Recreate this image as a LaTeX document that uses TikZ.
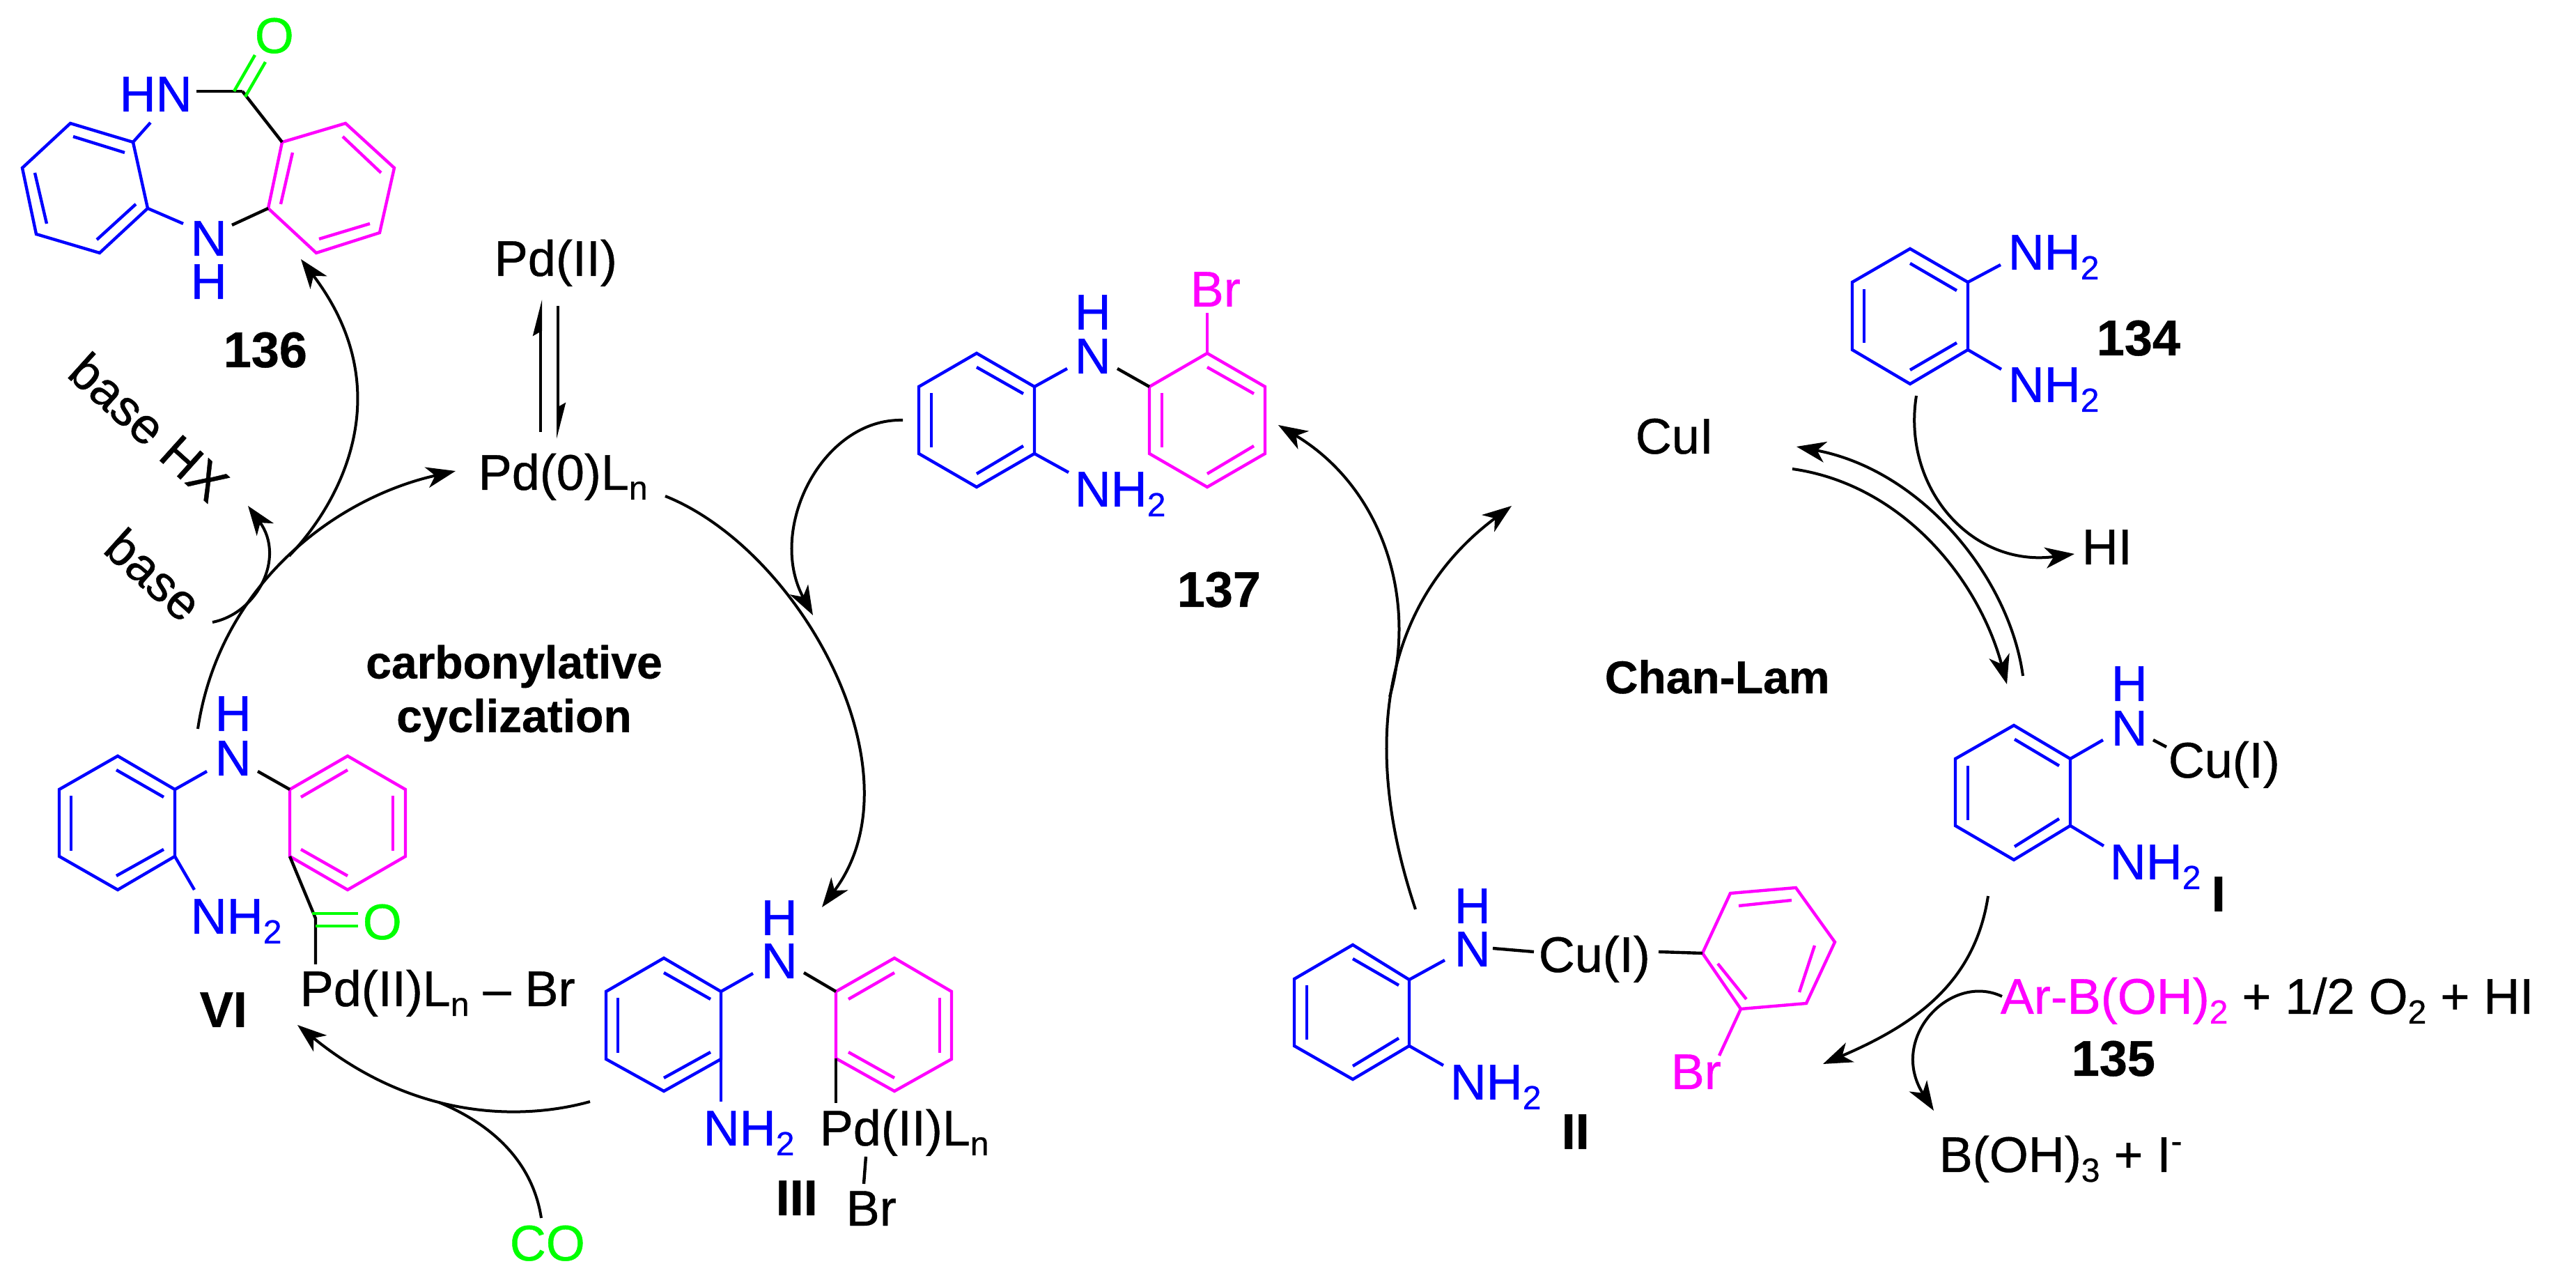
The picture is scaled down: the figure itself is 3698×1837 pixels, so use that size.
\documentclass[tikz,border=0pt]{standalone}
\usepackage{fontspec}
\setmainfont{Liberation Sans}[RawFeature={embolden=0.6}]
\usetikzlibrary{arrows.meta}
\definecolor{cb}{RGB}{0,0,255}
\definecolor{cm}{RGB}{255,0,255}
\definecolor{cg}{RGB}{0,255,0}
\newcommand\lsub[1]{\raisebox{-3.5pt}{\fontsize{12}{12}\selectfont #1}}
\newcommand\lsup[1]{\raisebox{7pt}{\fontsize{12}{12}\selectfont #1}}
\newcommand\hexring[8]{%
  \coordinate (#1a) at (#3);\coordinate (#1b) at (#4);\coordinate (#1c) at (#5);
  \coordinate (#1d) at (#6);\coordinate (#1e) at (#7);\coordinate (#1f) at (#8);
  \draw[#2] (#1a)--(#1b)--(#1c)--(#1d)--(#1e)--(#1f)--cycle;}
\newcommand\dbl[3]{\draw[#1] (#2)--(#3);}
\newcommand\tx[4]{\node[txt,text=#3] (#1) at (#2) {#4};}
\newcommand\bx[3]{\node[boldtxt] (#1) at (#2) {#3};}
\newcommand\bnd[4]{\coordinate (#2) at (#3);\draw[#1] (#4)--(#2);}
\tikzset{
  blb/.style={draw=cb,line width=1.1pt,line join=miter},
  mgb/.style={draw=cm,line width=1.1pt,line join=miter},
  grb/.style={draw=cg,line width=1.1pt},
  bkb/.style={draw=black,line width=1.1pt},
  txt/.style={anchor=base west,inner sep=0pt,xshift=-1pt,font=\fontsize{18}{21}\selectfont},
  boldtxt/.style={anchor=base west,inner sep=0pt,xshift=-1pt,font=\fontsize{18}{21}\selectfont\bfseries},
  arr/.style={draw=black,line width=1pt,-{Stealth[length=10.5pt,width=7.5pt,inset=3pt]}},
  arc/.style={draw=black,line width=1pt},
  harp/.style={draw=black,line width=1pt,-{Stealth[harpoon,length=11pt,width=5.5pt,inset=1.5pt]}},
}
\begin{document}
\begin{tikzpicture}[x=0.25pt,y=-0.25pt]
\useasboundingbox (0,0) rectangle (3698,1837);
\fill[white] (0,0) rectangle (3698,1837);
% ---------- 136
\hexring{Pa}{blb}{101,177}{191,204}{212,299}{143,363}{52,336}{32,241}
\dbl{blb}{105,196}{179,219}\dbl{blb}{50,248}{67,321}\dbl{blb}{139,344}{195,293}
\hexring{Pb}{mgb}{405,204}{496,177}{566,241}{545,334}{454,363}{385,299}
\dbl{mgb}{492,196}{547,248}\dbl{mgb}{458,343}{531,321}\dbl{mgb}{420,219}{403,293}
\tx{hn136}{175,160}{cb}{HN}
\tx{n136}{277,367}{cb}{N}
\tx{h136}{277,429}{cb}{H}
\tx{o136}{369,76}{cg}{O}
\bx{l136}{324,527}{136}
\coordinate (c136) at (348,131);
\bnd{blb}{e1}{216,176}{Pab}
\bnd{blb}{e2}{263,321}{Pac}
\bnd{bkb}{e3}{333,323}{Pbf}
\bnd{bkb}{e4}{282,131}{c136}
\draw[bkb] (c136)--(Pba);
\dbl{grb}{336,131}{366,79}\dbl{grb}{352,139}{381,89}
% ---------- Pd
\tx{pd2}{713,396}{black}{Pd(II)}
\tx{pd0}{690,703}{black}{Pd(0)L\lsub{n}}
\coordinate (qa) at (776,620);\coordinate (qb) at (776,430);
\coordinate (qc) at (801,439);\coordinate (qd) at (801,630);
\draw[harp] (qa)--(qb);
\draw[harp] (qc)--(qd);
\node[txt,anchor=center,rotate=-42,xshift=1pt] (bhx) at (215,610) {base HX};
\node[txt,anchor=center,rotate=-42,xshift=1pt] (bs) at (222,822) {base};
% ---------- VI
\hexring{Va}{blb}{169,1085}{251,1133}{251,1229}{169,1277}{85,1229}{85,1133}
\dbl{blb}{167,1105}{235,1144}\dbl{blb}{102,1142}{102,1221}\dbl{blb}{167,1257}{235,1219}
\hexring{Vb}{mgb}{416,1133}{499,1085}{582,1133}{582,1229}{499,1277}{416,1229}
\dbl{mgb}{432,1144}{499,1105}\dbl{mgb}{564,1142}{564,1221}\dbl{mgb}{432,1219}{499,1257}
\tx{n6}{312,1113}{cb}{N}
\tx{h6}{312,1049}{cb}{H}
\tx{nh6}{277,1340}{cb}{NH\lsub{2}}
\tx{o6}{524,1348}{cg}{O}
\tx{pd6}{434,1444}{black}{Pd(II)L\lsub{n} -- Br}
\bx{l6}{290,1474}{VI}
\bnd{blb}{e5}{297,1107}{Vab}
\bnd{bkb}{e6}{370,1107}{Vba}
\bnd{blb}{e7}{279,1277}{Vac}
\coordinate (c6) at (453,1318);\coordinate (c6b) at (453,1384);
\draw[bkb] (Vbf)--(c6)--(c6b);
\dbl{grb}{448,1311}{514,1311}\dbl{grb}{453,1329}{514,1329}
\node[boldtxt,anchor=center,align=center,xshift=1pt,font=\fontsize{16.5}{19.25}\selectfont\bfseries] (carb) at (738,995) {carbonylative\\cyclization};
% ---------- III
\hexring{Ta}{blb}{953,1375}{1035,1423}{1035,1520}{953,1566}{870,1520}{870,1423}
\dbl{blb}{953,1396}{1020,1434}\dbl{blb}{887,1432}{887,1511}\dbl{blb}{953,1547}{1020,1510}
\hexring{Tb}{mgb}{1200,1423}{1284,1375}{1366,1423}{1366,1520}{1284,1566}{1200,1519}
\dbl{mgb}{1218,1434}{1284,1396}\dbl{mgb}{1349,1432}{1349,1511}\dbl{mgb}{1218,1510}{1284,1547}
\tx{n3}{1096,1404}{cb}{N}
\tx{h3}{1096,1342}{cb}{H}
\tx{nh3}{1013,1644}{cb}{NH\lsub{2}}
\tx{pd3}{1180,1644}{black}{Pd(II)L\lsub{n}}
\tx{br3}{1218,1759}{black}{Br}
\bx{l3}{1117,1744}{III}
\bnd{blb}{e8}{1081,1397}{Tab}
\bnd{bkb}{e9}{1154,1396}{Tba}
\bnd{blb}{e10}{1035,1581}{Tac}
\bnd{bkb}{e11}{1200,1583}{Tbf}
\coordinate (e12) at (1243,1660);\coordinate (e13) at (1240,1699);
\draw[bkb] (e12)--(e13);
\tx{co}{735,1809}{cg}{CO}
% ---------- 137
\hexring{Sa}{blb}{1402,507}{1485,555}{1485,651}{1402,699}{1319,651}{1319,555}
\dbl{blb}{1402,527}{1469,565}\dbl{blb}{1337,564}{1337,642}\dbl{blb}{1402,680}{1469,640}
\hexring{Sb}{mgb}{1650,555}{1733,507}{1816,555}{1816,651}{1733,699}{1650,651}
\dbl{mgb}{1668,564}{1668,642}\dbl{mgb}{1733,527}{1800,565}\dbl{mgb}{1733,680}{1800,640}
\tx{n7}{1546,536}{cb}{N}
\tx{h7}{1546,473}{cb}{H}
\tx{nh7}{1546,727}{cb}{NH\lsub{2}}
\tx{br7}{1712,440}{cm}{Br}
\bx{l7}{1693,871}{137}
\bnd{blb}{e14}{1532,529}{Sab}
\bnd{bkb}{e15}{1604,529}{Sba}
\bnd{blb}{e16}{1534,678}{Sac}
\bnd{mgb}{e17}{1733,449}{Sbb}
% ---------- 134
\hexring{Fa}{blb}{2742,357}{2825,405}{2825,502}{2742,551}{2659,502}{2659,405}
\dbl{blb}{2742,378}{2809,417}\dbl{blb}{2676,415}{2676,492}\dbl{blb}{2742,531}{2809,492}
\tx{nh4a}{2886,387}{cb}{NH\lsub{2}}
\tx{nh4b}{2886,577}{cb}{NH\lsub{2}}
\bx{l4}{3013,510}{134}
\bnd{blb}{e18}{2872,380}{Fab}
\bnd{blb}{e19}{2873,530}{Fac}
\tx{hi}{2992,810}{black}{HI}
\tx{cui}{2351,651}{black}{CuI}
\node[boldtxt,font=\fontsize{16.5}{19}\selectfont\bfseries] (chan) at (2307,995) {Chan-Lam};
% ---------- I
\hexring{Ia}{blb}{2891,1041}{2972,1089}{2972,1185}{2891,1234}{2807,1185}{2807,1089}
\dbl{blb}{2892,1061}{2956,1099}\dbl{blb}{2825,1099}{2825,1177}\dbl{blb}{2892,1215}{2956,1175}
\tx{n1}{3034,1070}{cb}{N}
\tx{h1}{3034,1006}{cb}{H}
\tx{cu1}{3116,1116}{black}{Cu(I)}
\tx{nh1}{3032,1262}{cb}{NH\lsub{2}}
\bx{l1}{3178,1308}{I}
\bnd{blb}{e20}{3019,1062}{Iab}
\bnd{blb}{e21}{3020,1214}{Iac}
\coordinate (e22) at (3091,1062);\coordinate (e23) at (3110,1072);
\draw[bkb] (e22)--(e23);
% ---------- II
\hexring{Da}{blb}{1942,1356}{2023,1406}{2023,1501}{1942,1549}{1858,1501}{1858,1405}
\dbl{blb}{1942,1376}{2008,1414}\dbl{blb}{1876,1414}{1876,1492}\dbl{blb}{1942,1530}{2008,1490}
\hexring{Db}{mgb}{2444,1368}{2484,1282}{2578,1274}{2634,1352}{2593,1440}{2499,1448}
\dbl{mgb}{2496,1300}{2572,1292}\dbl{mgb}{2605,1357}{2583,1424}\dbl{mgb}{2466,1383}{2507,1434}
\tx{n2}{2091,1387}{cb}{N}
\tx{h2}{2091,1325}{cb}{H}
\tx{nh2}{2085,1578}{cb}{NH\lsub{2}}
\tx{cu2}{2212,1395}{black}{Cu(I)}
\tx{br2}{2402,1563}{cm}{Br}
\bx{l2}{2245,1649}{II}
\bnd{blb}{e24}{2074,1378}{Dab}
\bnd{blb}{e25}{2072,1529}{Dac}
\coordinate (e26) at (2143,1361);\coordinate (e27) at (2202,1366);
\draw[bkb] (e26)--(e27);
\bnd{bkb}{e28}{2381,1366}{Dba}
\bnd{mgb}{e29}{2468,1515}{Dbf}
% ---------- reagents
\node[txt] (arb) at (2875,1455) {\textcolor{cm}{Ar-B(OH)\lsub{2}} + 1/2 O\lsub{2} + HI};
\bx{l5}{2977,1544}{135}
\node[txt] (boh) at (2787,1682) {B(OH)\lsub{3} + I\lsup{-}};
% ---------- arrows
\coordinate (s6) at (284,1046);
\coordinate (tp0) at (654,676);
\draw[arr] (s6) .. controls (315,840) and (480,715) .. (tp0);
\coordinate (s6b) at (415,798);
\coordinate (t136) at (432,372);
\draw[arr] (s6b) .. controls (490,720) and (575,560) .. (t136);
\coordinate (sb) at (305,893);
\coordinate (tb) at (356,726);
\draw[arr] (sb) .. controls (370,880) and (410,800) .. (tb);
\coordinate (sp0) at (955,712);
\coordinate (t3) at (1180,1302);
\draw[arr] (sp0) .. controls (1150,790) and (1325,1110) .. (t3);
\coordinate (s137) at (1296,603);
\coordinate (t137) at (1167,883);
\draw[arr] (s137) .. controls (1180,600) and (1100,760) .. (t137);
\coordinate (s3) at (847,1581);
\coordinate (t6) at (427,1471);
\draw[arr] (s3) .. controls (750,1608) and (595,1608) .. (t6);
\coordinate (sco) at (777,1748);
\coordinate (eco) at (630,1582);
\draw[arc] (sco) .. controls (765,1670) and (710,1615) .. (eco);
\coordinate (s2) at (2032,1305);
\coordinate (tcu) at (2170,726);
\draw[arr] (s2) .. controls (1950,1060) and (1990,860) .. (tcu);
\coordinate (sx) at (1995,1000);
\coordinate (t7) at (1835,610);
\draw[arr] (sx) .. controls (2035,860) and (1985,700) .. (t7);
\coordinate (s1a) at (2904,970);
\coordinate (tc) at (2579,641);
\draw[arr] (s1a) .. controls (2885,830) and (2760,675) .. (tc);
\coordinate (sc) at (2573,673);
\coordinate (t1) at (2881,982);
\draw[arr] (sc) .. controls (2730,695) and (2840,830) .. (t1);
\coordinate (s4) at (2751,568);
\coordinate (thi) at (2978,795);
\draw[arr] (s4) .. controls (2730,700) and (2830,815) .. (thi);
\coordinate (s1) at (2854,1286);
\coordinate (t2) at (2617,1527);
\draw[arr] (s1) .. controls (2835,1410) and (2750,1470) .. (t2);
\coordinate (sar) at (2874,1430);
\coordinate (tbo) at (2776,1594);
\draw[arr] (sar) .. controls (2800,1395) and (2710,1490) .. (tbo);
\end{tikzpicture}
\end{document}
